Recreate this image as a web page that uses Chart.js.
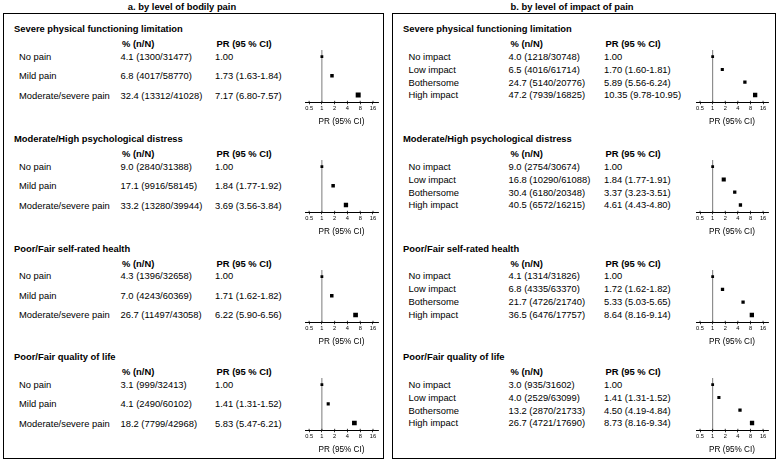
<!DOCTYPE html>
<html>
<head>
<meta charset="utf-8">
<script src="https://cdn.jsdelivr.net/npm/chart.js@4.4.1/dist/chart.umd.min.js"></script>
<style>
  html, body { margin: 0; padding: 0; background: #fff; }
  #page { position: relative; width: 777px; height: 461px; overflow: hidden;
          font-family: "Liberation Sans", Arial, sans-serif; color: #000; }
  .t { position: absolute; white-space: nowrap; font-size: 9.4px; line-height: 12px; height: 12px; }
  .b { font-weight: bold; }
  .c { text-align: center; }
  .box { position: absolute; border: 1.3px solid #000; box-sizing: border-box; }
  canvas { position: absolute; }
</style>
</head>
<body>
<div id="page"></div>
<script>
// ---- data ----
const outcomes = [
  'Severe physical functioning limitation',
  'Moderate/High psychological distress',
  'Poor/Fair self-rated health',
  'Poor/Fair quality of life'
];
const painLevels = ['No pain', 'Mild pain', 'Moderate/severe pain'];
const impactLevels = ['No impact', 'Low impact', 'Bothersome', 'High impact'];
const prTicks = [0.5, 1, 2, 4, 8, 16];

// a. by level of bodily pain
const painPct = [[4.1, 6.8, 32.4], [9.0, 17.1, 33.2], [4.3, 7.0, 26.7], [3.1, 4.1, 18.2]];
const painCases = [[1300, 4017, 13312], [2840, 9916, 13280], [1396, 4243, 11497], [999, 2490, 7799]];
const painTotal = [[31477, 58770, 41028], [31388, 58145, 39944], [32658, 60369, 43058], [32413, 60102, 42968]];
const painPR = [[1.00, 1.73, 7.17], [1.00, 1.84, 3.69], [1.00, 1.71, 6.22], [1.00, 1.41, 5.83]];
const painLow = [[null, 1.63, 6.80], [null, 1.77, 3.56], [null, 1.62, 5.90], [null, 1.31, 5.47]];
const painHigh = [[null, 1.84, 7.57], [null, 1.92, 3.84], [null, 1.82, 6.56], [null, 1.52, 6.21]];

// b. by level of impact of pain
const impactPct = [[4.0, 6.5, 24.7, 47.2], [9.0, 16.8, 30.4, 40.5], [4.1, 6.8, 21.7, 36.5], [3.0, 4.0, 13.2, 26.7]];
const impactCases = [[1218, 4016, 5140, 7939], [2754, 10290, 6180, 6572], [1314, 4335, 4726, 6476], [935, 2529, 2870, 4721]];
const impactTotal = [[30748, 61714, 20776, 16825], [30674, 61088, 20348, 16215], [31826, 63370, 21740, 17757], [31602, 63099, 21733, 17690]];
const impactPR = [[1.00, 1.70, 5.89, 10.35], [1.00, 1.84, 3.37, 4.61], [1.00, 1.72, 5.33, 8.64], [1.00, 1.41, 4.50, 8.73]];
const impactLow = [[null, 1.60, 5.56, 9.78], [null, 1.77, 3.23, 4.43], [null, 1.62, 5.03, 8.16], [null, 1.31, 4.19, 8.16]];
const impactHigh = [[null, 1.81, 6.24, 10.95], [null, 1.91, 3.51, 4.80], [null, 1.82, 5.65, 9.14], [null, 1.52, 4.84, 9.34]];

// ---- layout ----
const sectionOffsets = [0, 110, 219.5, 328];
const panels = [
  {
    title: 'a. by level of bodily pain', levels: painLevels,
    pct: painPct, cases: painCases, total: painTotal, pr: painPR, low: painLow, high: painHigh,
    box: [3, 12.5, 381, 446], titleX: 182, secX: 14, labelX: 19,
    pctHeadX: 122, pctX: 120.5, prHeadX: 216.5, prX: 215,
    rowY: [56.7, 76.3, 95.8], plotLeft: 293, plotWidth: 92, yMin: -0.35, yMax: 2.38,
    sides: [[2.8, 3.5, 5], [2.8, 3.5, 4.3], [2.8, 3.5, 4.7], [2.8, 3.1, 4.7]]
  },
  {
    title: 'b. by level of impact of pain', levels: impactLevels,
    pct: impactPct, cases: impactCases, total: impactTotal, pr: impactPR, low: impactLow, high: impactHigh,
    box: [392, 12.5, 384, 446], titleX: 572, secX: 403, labelX: 408.5,
    pctHeadX: 510.5, pctX: 508.5, prHeadX: 605.5, prX: 604,
    rowY: [56.7, 69.7, 82.5, 95], plotLeft: 684, plotWidth: 91, yMin: -0.52, yMax: 3.57,
    sides: [[2.8, 3.1, 3.3, 4.3], [2.8, 4.1, 3.3, 3.3], [2.8, 3.3, 3.3, 4.3], [2.8, 3.1, 3.3, 4.3]]
  }
];

const page = document.getElementById('page');

function addText(x, yMid, str, cls) {
  const d = document.createElement('div');
  d.className = 't ' + (cls || '');
  d.style.left = x + 'px';
  d.style.top = (yMid - 6) + 'px';
  d.textContent = str;
  page.appendChild(d);
  return d;
}

// grey reference line at PR = 1, plus tick marks poking above the axis
const refLine = {
  id: 'refLine',
  beforeDatasetsDraw(chart) {
    const { ctx, chartArea, scales } = chart;
    const x = scales.x.getPixelForValue(1);
    ctx.save();
    ctx.strokeStyle = '#7a7a7a';
    ctx.lineWidth = 1;
    ctx.beginPath();
    ctx.moveTo(x, chartArea.top);
    ctx.lineTo(x, chartArea.bottom);
    ctx.stroke();
    ctx.strokeStyle = '#000';
    ctx.lineWidth = 0.8;
    ctx.beginPath();
    prTicks.forEach(v => {
      const tx = scales.x.getPixelForValue(v);
      ctx.moveTo(tx, chartArea.bottom - 1.5);
      ctx.lineTo(tx, chartArea.bottom);
    });
    ctx.stroke();
    ctx.restore();
  }
};

panels.forEach(p => {
  const box = document.createElement('div');
  box.className = 'box';
  box.style.left = p.box[0] + 'px';
  box.style.top = p.box[1] + 'px';
  box.style.width = p.box[2] + 'px';
  box.style.height = p.box[3] + 'px';
  page.appendChild(box);

  const tt = addText(p.titleX - 120, 6.7, p.title, 'b c');
  tt.style.width = '240px';

  outcomes.forEach((name, s) => {
    const off = sectionOffsets[s];
    addText(p.secX, 29 + off, name, 'b');
    addText(p.pctHeadX, 44 + off, '% (n/N)', 'b');
    addText(p.prHeadX, 44 + off, 'PR (95 % CI)', 'b');

    p.levels.forEach((lvl, i) => {
      const y = p.rowY[i] + off;
      addText(p.labelX, y, lvl);
      addText(p.pctX, y, p.pct[s][i].toFixed(1) + ' (' + p.cases[s][i] + '/' + p.total[s][i] + ')');
      let prText = p.pr[s][i].toFixed(2);
      if (p.low[s][i] !== null) {
        prText += ' (' + p.low[s][i].toFixed(2) + '-' + p.high[s][i].toFixed(2) + ')';
      }
      addText(p.prX, y, prText);
    });

    const cv = document.createElement('canvas');
    cv.width = p.plotWidth;
    cv.height = 86;
    cv.style.left = p.plotLeft + 'px';
    cv.style.top = (44 + off) + 'px';
    cv.style.width = p.plotWidth + 'px';
    cv.style.height = '86px';
    page.appendChild(cv);

    new Chart(cv, {
      type: 'scatter',
      data: {
        datasets: [{
          data: p.pr[s].map((v, i) => ({ x: v, y: i })),
          pointStyle: 'rect',
          backgroundColor: '#000',
          borderWidth: 0,
          pointRadius: p.sides[s].map(d => d / Math.SQRT2),
          pointHoverRadius: p.sides[s].map(d => d / Math.SQRT2)
        }]
      },
      options: {
        responsive: false,
        animation: false,
        devicePixelRatio: 1,
        layout: { padding: { left: 12, right: 7, top: 6, bottom: 0 } },
        plugins: { legend: { display: false }, tooltip: { enabled: false } },
        scales: {
          x: {
            type: 'logarithmic',
            min: 0.4,
            max: 21,
            afterBuildTicks: sc => { sc.ticks = prTicks.map(v => ({ value: v, major: true })); },
            afterFit: sc => { sc.height = 27.7; },
            ticks: {
              autoSkip: false,
              maxRotation: 0,
              padding: 1,
              color: '#000',
              font: { family: 'Liberation Sans, Arial, sans-serif', size: 5.7 },
              callback: v => String(v)
            },
            grid: { drawOnChartArea: false, drawTicks: true, tickLength: 2, color: '#000', lineWidth: 0.8 },
            border: { display: true, color: '#000', width: 1 },
            title: {
              display: true,
              text: 'PR (95% CI)',
              color: '#000',
              font: { family: 'Liberation Sans, Arial, sans-serif', size: 8.2 },
              padding: { top: 5, bottom: 3.1 }
            }
          },
          y: {
            type: 'linear',
            reverse: true,
            min: p.yMin,
            max: p.yMax,
            display: false
          }
        }
      },
      plugins: [refLine]
    });
  });
});
</script>
</body>
</html>
